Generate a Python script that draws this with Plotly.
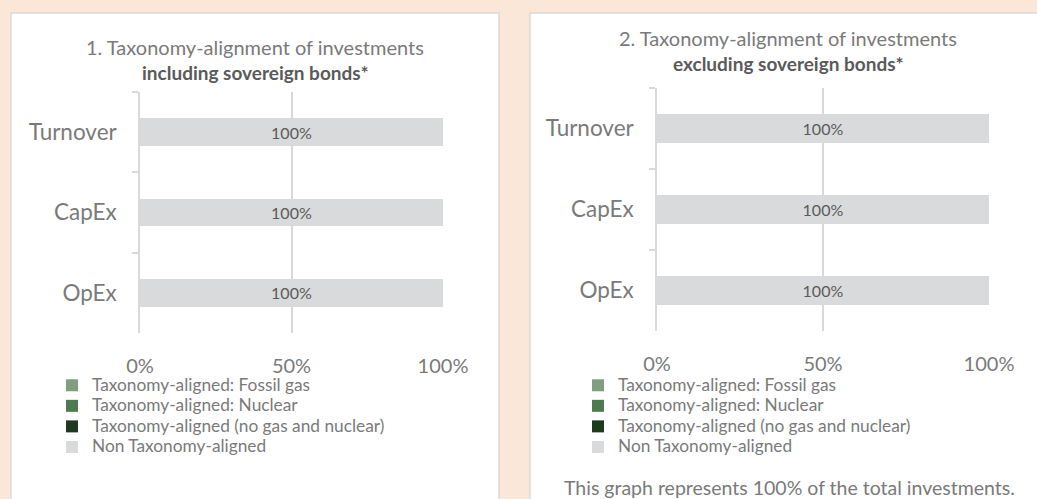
import plotly.graph_objects as go

# ---- data ----
categories = ["Turnover", "CapEx", "OpEx"]
series_names = [
    "Taxonomy-aligned: Fossil gas",
    "Taxonomy-aligned: Nuclear",
    "Taxonomy-aligned (no gas and nuclear)",
    "Non Taxonomy-aligned",
]
series_colors = ["#7F9F7F", "#4D7A4F", "#1C3A1E", "#D9DADC"]

# panel 1: including sovereign bonds
incl_fossil_gas = [0, 0, 0]
incl_nuclear = [0, 0, 0]
incl_aligned_other = [0, 0, 0]
incl_non_aligned = [100, 100, 100]

# panel 2: excluding sovereign bonds
excl_fossil_gas = [0, 0, 0]
excl_nuclear = [0, 0, 0]
excl_aligned_other = [0, 0, 0]
excl_non_aligned = [100, 100, 100]

x_tick_vals = [0, 50, 100]
x_tick_text = ["0%", "50%", "100%"]

title1_line1 = "1. Taxonomy-alignment of investments"
title1_line2 = "including sovereign bonds*"
title2_line1 = "2. Taxonomy-alignment of investments"
title2_line2 = "excluding sovereign bonds*"
footnote = "This graph represents 100% of the total investments."

# ---- layout helpers ----
W, H = 1037, 499
FONT = "Lato"
TXT = "#7A7A7A"
DARK = "#5A5A5A"
GRID = "#D9D9D9"


def px(x):
    return x / W


def py(y):
    return 1 - y / H


fig = go.Figure()

panels = [
    dict(xa="x", ya="y", legend="legend",
         vals=[incl_fossil_gas, incl_nuclear, incl_aligned_other, incl_non_aligned]),
    dict(xa="x2", ya="y2", legend="legend2",
         vals=[excl_fossil_gas, excl_nuclear, excl_aligned_other, excl_non_aligned]),
]

for p in panels:
    for i, (name, color, vals) in enumerate(zip(series_names, series_colors, p["vals"])):
        show_text = i == 3
        fig.add_trace(go.Bar(
            y=categories, x=vals, orientation="h",
            name=f'<span style="font-size:17.3px">{name}</span>',
            marker=dict(color=color, line=dict(width=0)),
            xaxis=p["xa"], yaxis=p["ya"], legend=p["legend"],
            texttemplate="%{x:.0f}%" if show_text else None,
            textposition="inside" if show_text else "none",
            insidetextanchor="middle",
            textfont=dict(family=FONT, size=16, color=DARK),
            hoverinfo="skip",
        ))

xcommon = dict(range=[0, 100], tickvals=x_tick_vals, ticktext=x_tick_text,
               showgrid=True, gridcolor=GRID, gridwidth=1.5, zeroline=False,
               showline=False, ticks="", fixedrange=True, automargin=False,
               tickfont=dict(family=FONT, size=20, color=TXT), ticklabelstandoff=19)
ycommon = dict(categoryorder="array", categoryarray=categories, range=[2.5, -0.5],
               showgrid=False, zeroline=False, showline=True, linecolor=GRID, linewidth=1.5,
               ticks="outside", tickson="boundaries", ticklen=6, tickcolor=GRID, tickwidth=1.5,
               tickfont=dict(family=FONT, size=22.5, color=TXT), ticklabelstandoff=17,
               fixedrange=True, automargin=False)

legend_common = dict(font=dict(family=FONT, size=13.5, color=TXT), bgcolor="rgba(0,0,0,0)",
                     traceorder="normal", itemclick=False, itemdoubleclick=False,
                     xanchor="left", yanchor="top", tracegroupgap=0)

fig.update_layout(
    width=W, height=H, autosize=False,
    margin=dict(l=0, r=0, t=0, b=0, pad=0, autoexpand=False),
    paper_bgcolor="#FBE7D7", plot_bgcolor="rgba(0,0,0,0)",
    barmode="stack", bargap=0.652,
    showlegend=True,
    xaxis=dict(domain=[px(140), px(443)], anchor="y", **xcommon),
    yaxis=dict(domain=[py(333), py(92)], anchor="x", **ycommon),
    xaxis2=dict(domain=[px(657), px(989)], anchor="y2", **xcommon),
    yaxis2=dict(domain=[py(331), py(88)], anchor="x2", **ycommon),
    legend=dict(x=px(52), y=py(370), **legend_common),
    legend2=dict(x=px(578), y=py(370), **legend_common),
    shapes=[
        dict(type="rect", xref="paper", yref="paper", x0=px(11), x1=px(499), y0=-0.1, y1=py(13),
             fillcolor="white", line=dict(color="#D9DADC", width=1.5), layer="below"),
        dict(type="rect", xref="paper", yref="paper", x0=px(530), x1=1.1, y0=-0.1, y1=py(13),
             fillcolor="white", line=dict(color="#D9DADC", width=1.5), layer="below"),
    ],
    annotations=[
        dict(text=title1_line1, x=px(255), y=py(47), xref="paper", yref="paper",
             showarrow=False, xanchor="center", yanchor="middle",
             font=dict(family=FONT, size=20, color=TXT)),
        dict(text=f"<b>{title1_line2}</b>", x=px(255), y=py(72), xref="paper", yref="paper",
             showarrow=False, xanchor="center", yanchor="middle",
             font=dict(family=FONT, size=19, color=DARK)),
        dict(text=title2_line1, x=px(788), y=py(38), xref="paper", yref="paper",
             showarrow=False, xanchor="center", yanchor="middle",
             font=dict(family=FONT, size=20, color=TXT)),
        dict(text=f"<b>{title2_line2}</b>", x=px(788), y=py(63), xref="paper", yref="paper",
             showarrow=False, xanchor="center", yanchor="middle",
             font=dict(family=FONT, size=19, color=DARK)),
        dict(text=footnote, x=px(789), y=py(487), xref="paper", yref="paper",
             showarrow=False, xanchor="center", yanchor="middle",
             font=dict(family=FONT, size=19.5, color=TXT)),
    ],
)

fig.write_html(
    "out.html",
    config={"displayModeBar": False},
    post_script="document.body.style.margin='0';document.body.style.overflow='hidden';",
)
